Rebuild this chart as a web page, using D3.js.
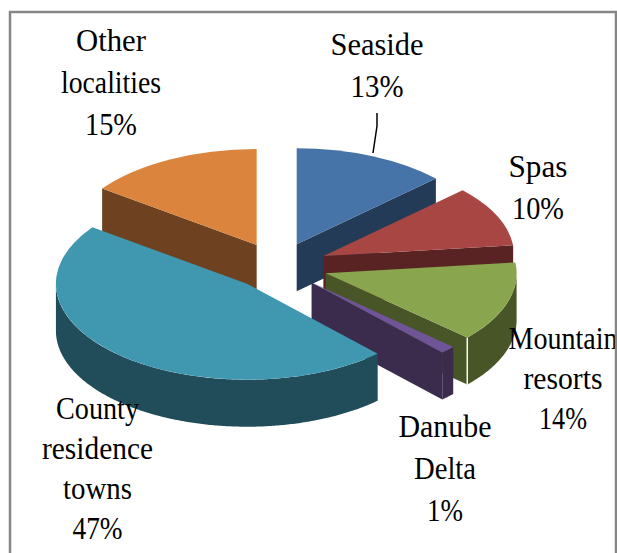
<!DOCTYPE html>
<html lang="en">
<head>
    <meta charset="UTF-8">
    <title>Localities pie</title>
    <script src="https://d3js.org/d3.v7.min.js"></script>
    <style>
        html,
        body {
            margin: 0;
            height: 100%;
            overflow: hidden;
            background: #fff;
        }
    </style>
</head>
<body>
    <svg id="svg"></svg>
    <script>
        // clockwise from 12 o'clock. values
        const categories = ['Seaside', 'Spas', 'Mountain resorts', 'Danube Delta', 'County residence towns', 'Other localities'];
        const values = [13, 10.2, 13.5, 1.3, 47, 15];
        const topColors = ['#4673a8', '#a84644', '#89a54e', '#6f5597', '#4098b0', '#db843d'];
        const wallColors = ['#243b58', '#582322', '#475527', '#3b2c4e', '#214d5b', '#6e4220'];
        // painter's order, back to front
        const drawOrder = ['Seaside', 'Other localities', 'Spas', 'Mountain resorts', 'Danube Delta', 'County residence towns'];

        const width = 617, height = 553;
        const svg = d3.select('#svg').attr('width', width).attr('height', height);

        const cx = 278, cy = 266;
        const rx = 191, ry = 96, depth = 47;
        const squash = ry / rx;
        const explode = { 'Spas': 50, 'Mountain resorts': 50 };
        const defaultExplode = 47;

        // widths: measured width of each row, the source font is squeezed unevenly
        const labelLayout = {
            'Seaside': { x: 377, y: 55, step: 42, lines: ['Seaside'], widths: [93, 53] },
            'Spas': { x: 538, y: 177, step: 42, lines: ['Spas'], widths: [59, 52] },
            'Mountain resorts': { x: 563, y: 349, step: 40, lines: ['Mountain', 'resorts'], widths: [109, 79, 48] },
            'Danube Delta': { x: 445, y: 437, step: 42, lines: ['Danube', 'Delta'], widths: [93, 62, 36] },
            'County residence towns': { x: 97.5, y: 419, step: 40, lines: ['County', 'residence', 'towns'], widths: [83, 111, 69, 50] },
            'Other localities': { x: 111, y: 51, step: 42, lines: ['Other', 'localities'], widths: [70, 100, 52] }
        };

        const pie = d3.pie().sort(null).value(d => values[categories.indexOf(d)]);
        const slices = pie(categories);
        const arc = d3.arc().innerRadius(0).outerRadius(rx);
        const line = d3.line();

        // angle (0 = up, clockwise) to screen point on the squashed circle
        const project = (a, o, dy = 0) => [
            o.x + rx * Math.sin(a),
            o.y - ry * Math.cos(a) + dy
        ];
        const origin = d => {
            const mid = (d.startAngle + d.endAngle) / 2;
            const e = explode[d.data] || defaultExplode;
            return {
                x: cx + e * Math.sin(mid),
                y: cy - defaultExplode * squash * Math.cos(mid)
            };
        };
        const radialWall = (a, o) => line([
            [o.x, o.y], project(a, o), project(a, o, depth), [o.x, o.y + depth]
        ]) + 'Z';
        const outerWall = (d, o) => {
            const a0 = Math.max(d.startAngle, Math.PI / 2);
            const a1 = Math.min(d.endAngle, Math.PI * 1.5);
            if (a1 <= a0) return null;
            const angles = d3.range(a0, a1, 0.01).concat([a1]);
            const upper = angles.map(a => project(a, o));
            const lower = angles.slice().reverse().map(a => project(a, o, depth));
            return line(upper.concat(lower)) + 'Z';
        };

        const ordered = drawOrder.map(name => slices.find(s => s.data === name));
        const g = svg.selectAll('g.slice').data(ordered).join('g').attr('class', 'slice');

        g.each(function (d) {
            const o = origin(d);
            const c = categories.indexOf(d.data);
            const el = d3.select(this);
            // only the faces turned to the viewer
            if (Math.sin(d.startAngle) < -0.001) {
                el.append('path').attr('d', radialWall(d.startAngle, o)).attr('fill', wallColors[c]);
            }
            if (Math.sin(d.endAngle) > 0.001) {
                el.append('path').attr('d', radialWall(d.endAngle, o)).attr('fill', wallColors[c]);
            }
            const wall = outerWall(d, o);
            if (wall) el.append('path').attr('d', wall).attr('fill', wallColors[c]);
            if (d.data === 'Mountain resorts') {
                // light seam on the front corner
                el.append('path')
                    .attr('d', line([project(d.endAngle, o), project(d.endAngle, o, depth)]))
                    .attr('stroke', '#fff').attr('stroke-width', 1.5);
            }
            el.append('path')
                .attr('d', arc(d))
                .attr('transform', `translate(${o.x},${o.y}) scale(1,${squash})`)
                .attr('fill', topColors[c]);
        });

        // leader line for Seaside
        svg.append('path')
            .attr('d', 'M377,113V126L373,153')
            .attr('fill', 'none')
            .attr('stroke', '#000')
            .attr('stroke-width', 1.5);

        // "Mountain" runs into the frame and gets cut there
        svg.append('clipPath').attr('id', 'frameClip')
            .append('rect').attr('width', 615).attr('height', height);

        const labels = svg.append('g').attr('clip-path', 'url(#frameClip)')
            .selectAll('g.label').data(slices).join('g')
            .attr('class', 'label')
            .attr('transform', d => `translate(${labelLayout[d.data].x},${labelLayout[d.data].y})`);

        labels.each(function (d) {
            const layout = labelLayout[d.data];
            const rows = layout.lines.concat([Math.round(d.value) + '%']);
            d3.select(this).selectAll('text').data(rows).join('text')
                .attr('y', (r, i) => i * layout.step)
                .attr('font-family', '"Liberation Serif", serif')
                .attr('font-size', 31)
                .attr('fill', '#000')
                .attr('text-anchor', 'middle')
                .attr('textLength', (r, i) => layout.widths[i])
                .attr('lengthAdjust', 'spacingAndGlyphs')
                .text(r => r);
        });

        // frame, no bottom edge in the source
        svg.append('path')
            .attr('d', `M10,${height}V12H616V${height}`)
            .attr('fill', 'none')
            .attr('stroke', '#868686')
            .attr('stroke-width', 2.5);
    </script>
</body>
</html>
